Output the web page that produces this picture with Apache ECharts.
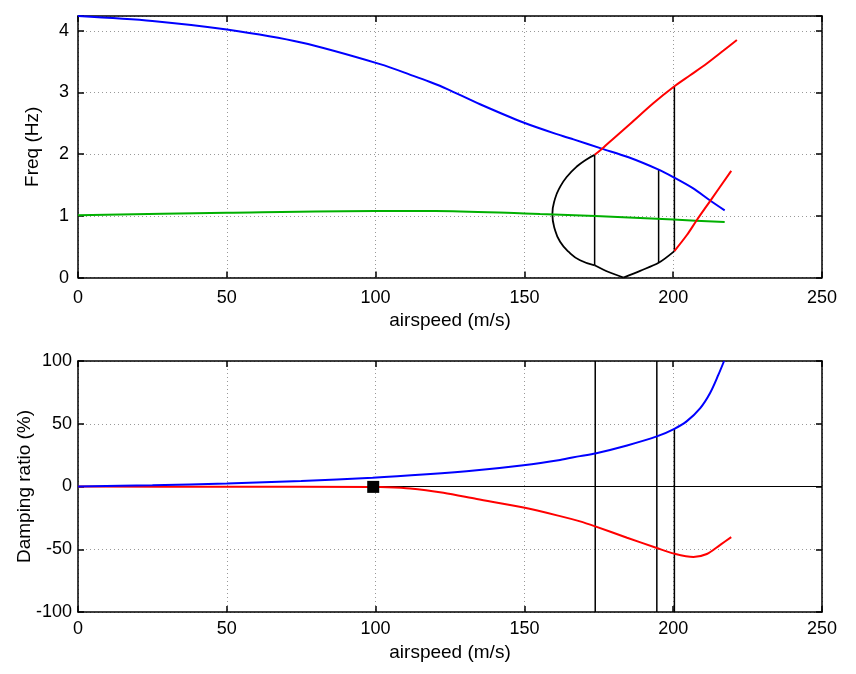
<!DOCTYPE html>
<html><head><meta charset="utf-8">
<script src="https://cdn.jsdelivr.net/npm/echarts@6/dist/echarts.min.js"></script>
<style>html,body{margin:0;padding:0;background:#fff}#c{width:856px;height:674px}</style>
</head><body><div id="c"></div>
<script>
// ---------- data (top: frequency) ----------
const freqBlue = [[0,4.24],[25,4.16],[50,4.02],[75,3.81],[101.5,3.46],[112.7,3.27],[118.3,3.17],[123.9,3.06],[135.1,2.81],[149.9,2.51],[163.1,2.29],[166.5,2.24],[176,2.09],[185,1.95],[195.1,1.75],[200,1.63],[206.6,1.45],[212.4,1.25],[217.3,1.09]];
const freqGreen = [[0,1.01],[50,1.05],[100,1.08],[120,1.08],[150,1.04],[155.3,1.03],[173.8,1.00],[200.1,0.94],[217.3,0.90]];
const freqRedUpper = [[173.6,1.99],[176.6,2.11],[179.4,2.23],[185.5,2.49],[193.4,2.83],[200.1,3.09],[205.7,3.28],[211.3,3.47],[216.9,3.68],[221.4,3.85]];
const freqRedLower = [[200.4,0.43],[204.6,0.69],[207.9,0.93],[212.4,1.24],[219.5,1.73]];
const lensArc = [[173.6,1.99],[171.0,1.92],[167.6,1.80],[164.2,1.63],[162.0,1.47],[160.3,1.28],[159.4,1.03],[160.3,0.77],[162.0,0.58],[164.8,0.42],[168.7,0.28],[173.6,0.20]];
const lensBottomLeft = [[173.6,0.20],[178.3,0.09],[183.3,0.0]];
const lensBottomRight = [[183.3,0.0],[188.9,0.11],[195.1,0.24],[200.4,0.43]];
// vertical markers: speed, lower freq, upper freq
const freqVerticals = [[173.6,0.20,1.99],[195.1,0.24,1.75],[200.4,0.43,3.10]];
// ---------- data (bottom: damping) ----------
const dampBlue = [[0,0],[25,1.0],[50,2.4],[75,4.4],[99,7.0],[117.2,9.8],[134,13.0],[149.7,17.0],[162,21.2],[168.7,24.2],[173.8,26.3],[184.5,32.7],[194.5,39.9],[200.4,46.0],[204.5,51.9],[209.1,62.5],[212.4,74.5],[215.2,89.1],[217.1,100]];
const dampRed = [[0,0],[50,-0.2],[99,-0.3],[101.5,-0.4],[111.6,-1.6],[122.8,-5.0],[134,-10.0],[149.7,-16.8],[162,-23.6],[168.7,-27.8],[173.8,-31.8],[184.5,-40.8],[194.5,-49.0],[200.4,-53.5],[206.8,-56.1],[211.3,-53.8],[215.8,-46.5],[219.5,-40.3]];
const dampMarker = [[99.2,-0.3]];
// vertical markers: speed, lower, upper
const dampVerticals = [[173.8,-100,100],[194.5,-100,100],[200.4,-100,46.0]];
// ---------- axes ----------
const xRange = [0,250], xStep = 50;
const freqRange = [0,4.24], freqStep = 1;
const dampRange = [-100,100], dampStep = 50;

const FONT = 'Liberation Sans, Arial, sans-serif';
const axisLineStyle = {color:'#000', width:1.5};
const splitStyle = {show:true, lineStyle:{color:'#999', type:[1,3], width:1}};

function mainX(gi, gap, margin){
  return {type:'value', gridIndex:gi, min:xRange[0], max:xRange[1], interval:xStep,
    name:'airspeed (m/s)', nameLocation:'middle', nameGap:gap, nameMoveOverlap:false,
    nameTextStyle:{fontFamily:FONT, fontSize:19, color:'#000'},
    axisLine:{show:true, onZero:false, lineStyle:axisLineStyle},
    axisTick:{show:true, inside:true, length:6, lineStyle:axisLineStyle},
    axisLabel:{fontFamily:FONT, fontSize:18, color:'#000', margin:margin},
    splitLine:splitStyle};
}
function frameX(gi){
  return {type:'value', gridIndex:gi, position:'top', min:xRange[0], max:xRange[1], interval:xStep,
    axisLine:{show:true, onZero:false, lineStyle:axisLineStyle},
    axisTick:{show:true, inside:true, length:6, lineStyle:axisLineStyle},
    axisLabel:{show:false}, splitLine:{show:false}};
}
function mainY(gi, r, step, name, gap, margin){
  return {type:'value', gridIndex:gi, min:r[0], max:r[1], interval:step,
    name:name, nameLocation:'middle', nameGap:gap, nameMoveOverlap:false,
    nameTextStyle:{fontFamily:FONT, fontSize:19, color:'#000'},
    axisLine:{show:true, onZero:false, lineStyle:axisLineStyle},
    axisTick:{show:true, inside:true, length:6, lineStyle:axisLineStyle},
    axisLabel:{fontFamily:FONT, fontSize:18, color:'#000', margin:margin,
      formatter:v => (Math.abs(v/step - Math.round(v/step))<1e-6 ? String(v) : '')},
    splitLine:splitStyle};
}
function frameY(gi, r, step){
  return {type:'value', gridIndex:gi, position:'right', min:r[0], max:r[1], interval:step,
    axisLine:{show:true, onZero:false, lineStyle:axisLineStyle},
    axisTick:{show:true, inside:true, length:6, lineStyle:axisLineStyle},
    axisLabel:{show:false}, splitLine:{show:false}};
}
function line(data, color, xi, yi, smooth, width){
  return {type:'line', data:data, xAxisIndex:xi, yAxisIndex:yi, showSymbol:false, symbol:'none',
    smooth:smooth, lineStyle:{color:color, width:width||2}, z:3, animation:false};
}
const series = [];
// top
freqVerticals.forEach(v => series.push(line([[v[0],v[1]],[v[0],v[2]]], '#000', 0, 0, false, 1.5)));
series.push(line(lensArc, '#000', 0, 0, 0.5, 1.8));
series.push(line(lensBottomLeft, '#000', 0, 0, 0.3, 1.8));
series.push(line(lensBottomRight, '#000', 0, 0, 0.3, 1.8));
series.push(line(freqGreen, '#00b000', 0, 0, 0.3, 2));
series.push(line(freqBlue, '#0000ff', 0, 0, 0.3, 2));
series.push(line(freqRedUpper, '#ff0000', 0, 0, 0.3, 2));
series.push(line(freqRedLower, '#ff0000', 0, 0, 0.3, 2));
// bottom
dampVerticals.forEach(v => series.push(line([[v[0],v[1]],[v[0],v[2]]], '#000', 2, 2, false, 1.5)));
series.push(line([[xRange[0],0],[xRange[1],0]], '#000', 2, 2, false, 1.2));
series.push(line(dampRed, '#ff0000', 2, 2, 0.3, 2));
series.push(line(dampBlue, '#0000ff', 2, 2, 0.3, 2));
series.push({type:'scatter', data:dampMarker, xAxisIndex:2, yAxisIndex:2, symbol:'rect', symbolSize:12,
  itemStyle:{color:'#000', opacity:1}, z:5, animation:false});

const chart = echarts.init(document.getElementById('c'), null, {renderer:'canvas'});
chart.setOption({
  backgroundColor:'#fff',
  animation:false,
  grid:[{left:78, right:34, top:16, height:261.6, outerBoundsMode:'none', containLabel:false},
        {left:78, right:34, top:361, height:251, outerBoundsMode:'none', containLabel:false}],
  xAxis:[mainX(0,34,11), frameX(0), mainX(1,31,8), frameX(1)],
  yAxis:[mainY(0,freqRange,freqStep,'Freq (Hz)',36,9), frameY(0,freqRange,freqStep),
         mainY(1,dampRange,dampStep,'Damping ratio (%)',44,6), frameY(1,dampRange,dampStep)],
  series:series
});
</script></body></html>
